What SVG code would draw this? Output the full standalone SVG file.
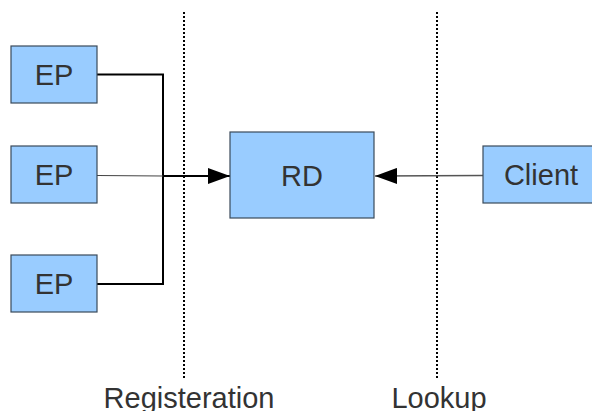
<svg xmlns="http://www.w3.org/2000/svg" width="592" height="411" viewBox="0 0 592 411">
<style>
.box{fill:#99ccff;stroke:#3a4a5a;stroke-width:1.2}
.t{font-family:"Liberation Sans",Arial,sans-serif;font-size:29px;fill:#333;text-anchor:middle}
.c{fill:none;stroke:#000;stroke-width:2}
.d{fill:none;stroke:#000;stroke-width:2;stroke-dasharray:2 2}
</style>
<defs>
<marker id="ah" markerWidth="22" markerHeight="16" refX="22" refY="8" orient="auto" markerUnits="userSpaceOnUse">
<path d="M0,0 L22,8 L0,16 Z" fill="#000"/>
</marker>
</defs>
<rect width="592" height="411" fill="#fff"/>
<g id="dividers">
<line class="d" x1="184" y1="12" x2="184" y2="380"/>
<line class="d" x1="437" y1="12" x2="437" y2="380"/>
</g>
<g id="connectors">
<polyline class="c" points="97,74.5 163,74.5 163,284 97,284"/>
<line x1="97" y1="175.5" x2="163" y2="176" stroke="#444" stroke-width="1.2"/>
<line class="c" x1="163" y1="176" x2="230" y2="176" marker-end="url(#ah)"/>
<line x1="483" y1="175.5" x2="375" y2="176" stroke="#555" stroke-width="1.4" marker-end="url(#ah)"/>
</g>
<g id="ep1"><rect class="box" x="11" y="46" width="86" height="57"/><text class="t" x="54" y="85">EP</text></g>
<g id="ep2"><rect class="box" x="11" y="146" width="86" height="57"/><text class="t" x="54" y="185">EP</text></g>
<g id="ep3"><rect class="box" x="11" y="255" width="86" height="57"/><text class="t" x="54" y="294">EP</text></g>
<g id="rd"><rect class="box" x="230" y="132" width="144" height="86"/><text class="t" x="302" y="186">RD</text></g>
<g id="client"><rect class="box" x="483" y="146" width="112" height="57"/><text class="t" x="541" y="185">Client</text></g>
<g id="labels">
<text class="t" x="189" y="408">Registeration</text>
<text class="t" x="439" y="408">Lookup</text>
</g>
</svg>
